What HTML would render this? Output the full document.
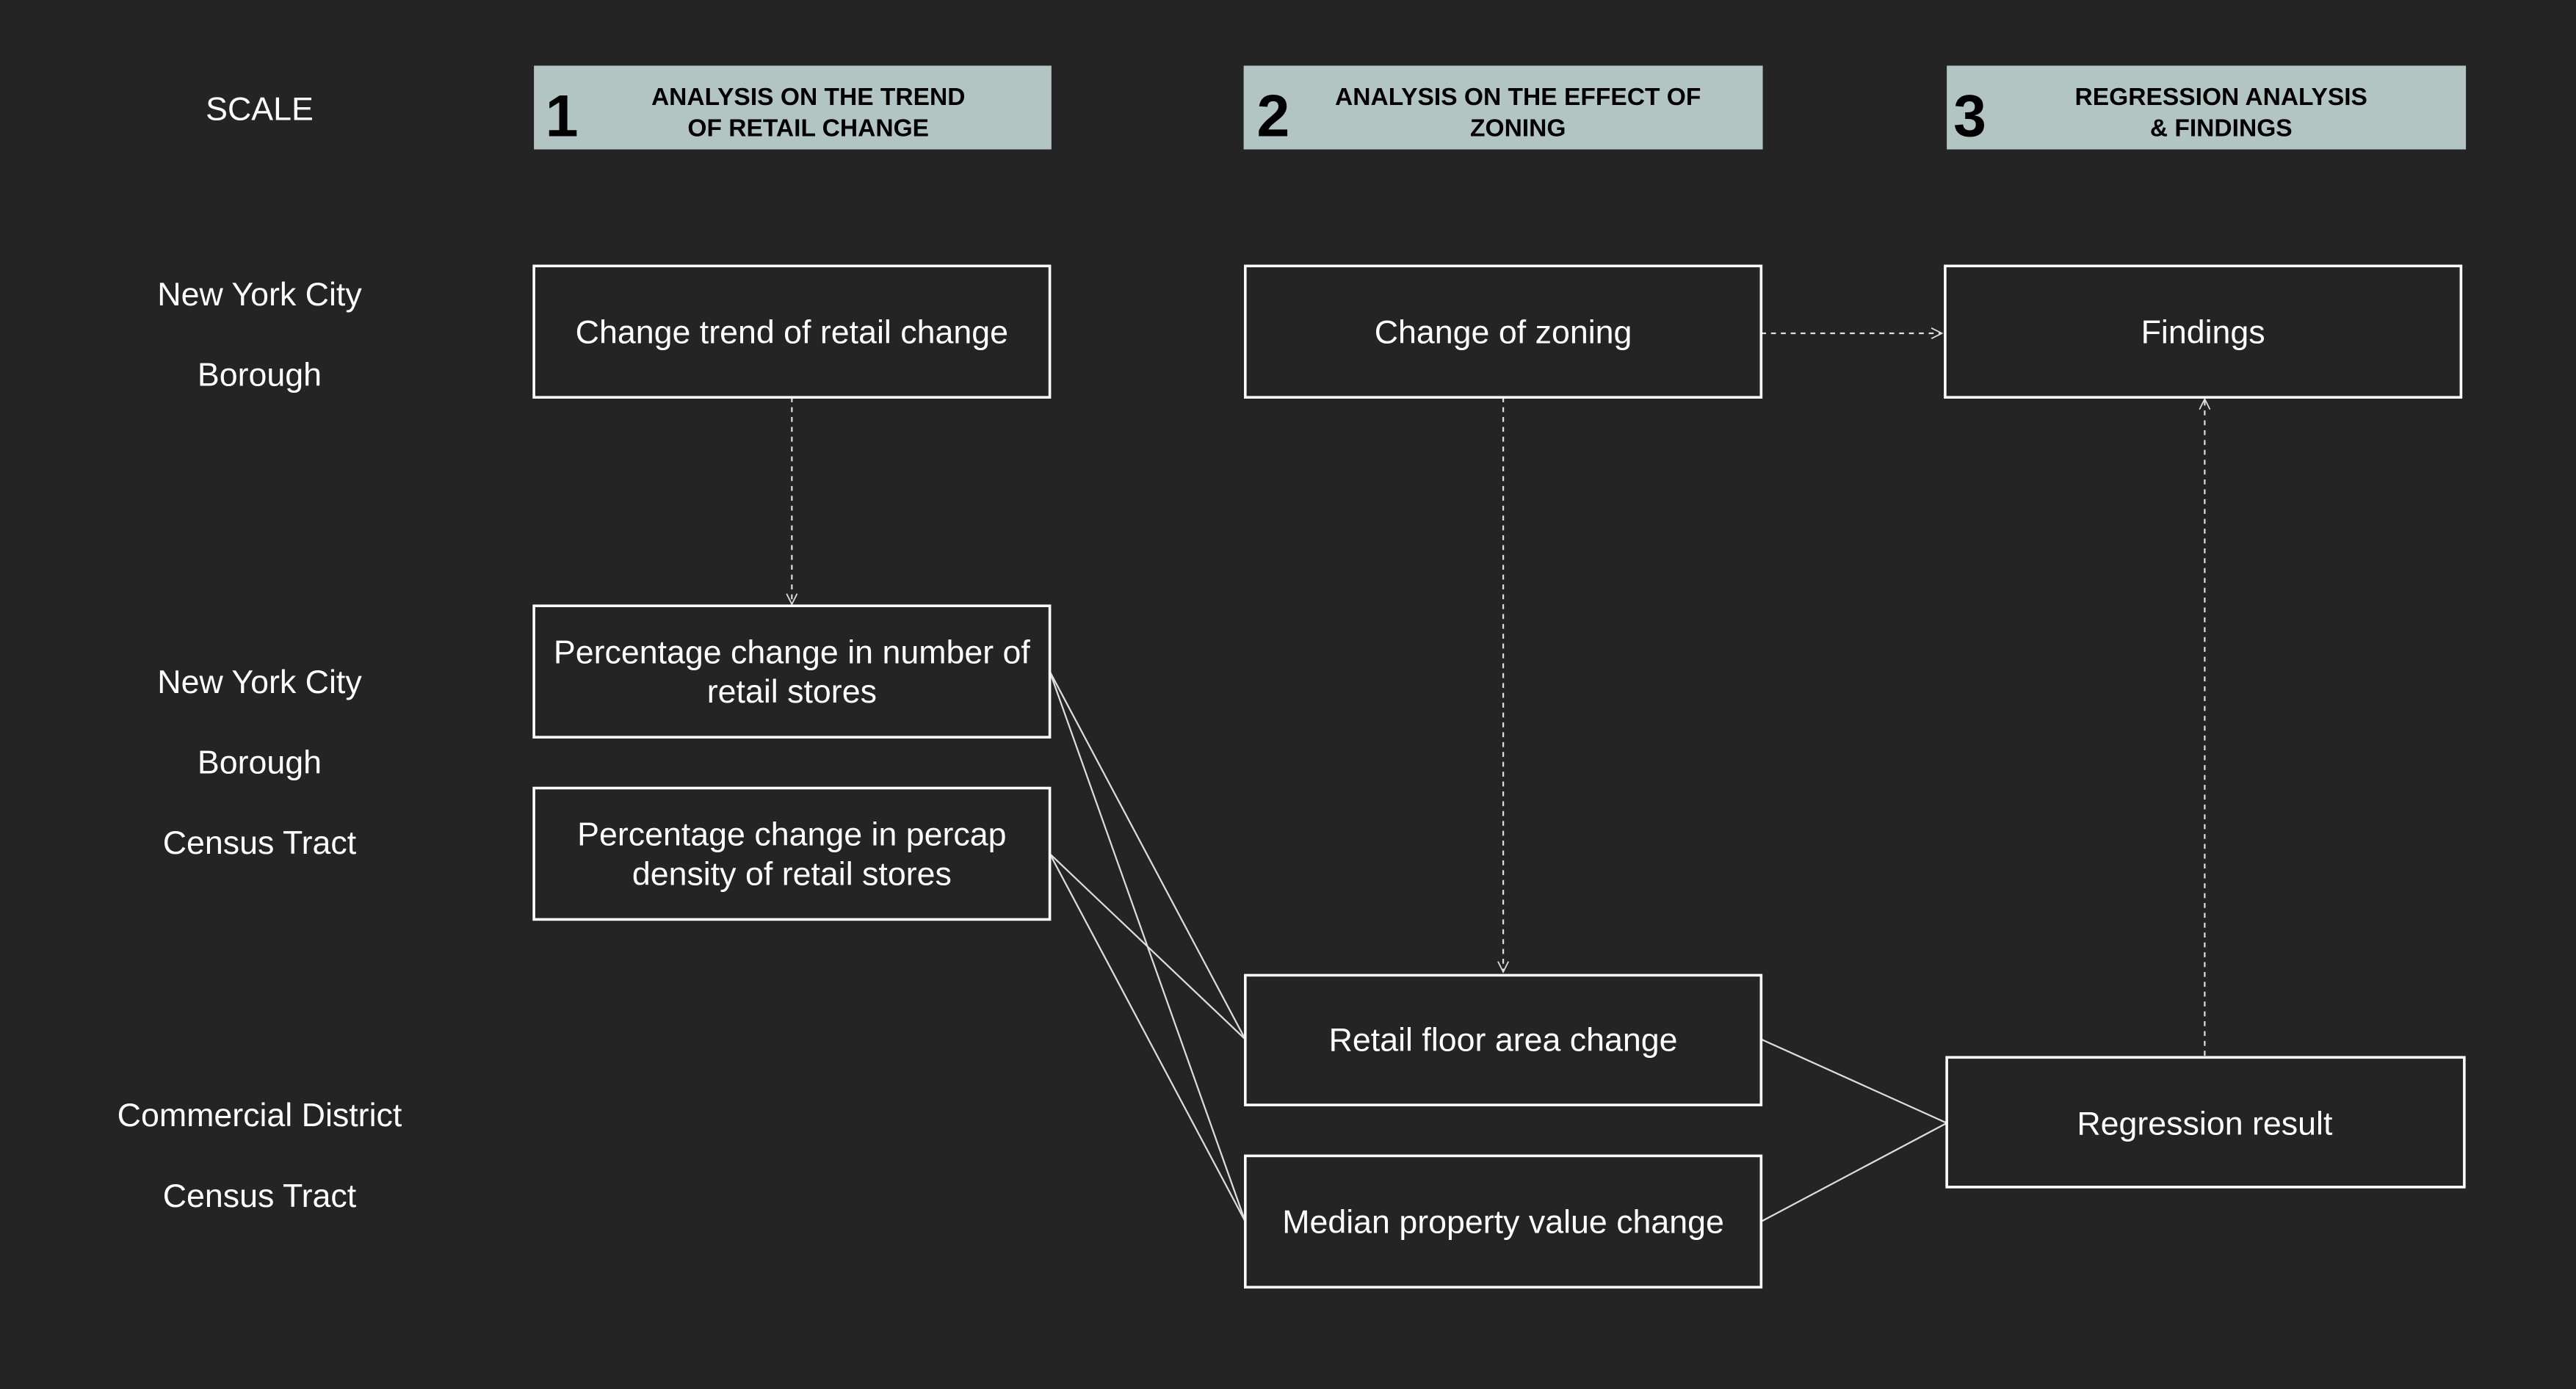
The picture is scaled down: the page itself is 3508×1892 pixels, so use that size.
<!DOCTYPE html>
<html><head><meta charset="utf-8"><style>
html,body{margin:0;padding:0;background:#242424;}
svg{display:block;}
text{font-family:"Liberation Sans",sans-serif;}
</style></head><body>
<svg width="3508" height="1892" viewBox="0 0 1568 846" preserveAspectRatio="none" xmlns="http://www.w3.org/2000/svg">
<defs>
<marker id="a" viewBox="0 0 10 10" refX="9" refY="5" markerWidth="8" markerHeight="8" orient="auto" markerUnits="userSpaceOnUse">
<path d="M1,1 L9,5 L1,9" fill="none" stroke="#ddd" stroke-width="1"/></marker>
</defs>
<rect width="1568" height="846" fill="#242424"/>
<g fill="#b2c5c2">
<rect x="325" y="40" width="315" height="51"/>
<rect x="757" y="40" width="316" height="51"/>
<rect x="1185" y="40" width="316" height="51"/>
</g>
<g fill="#000" font-weight="bold">
<text x="332" y="83" font-size="36">1</text>
<text x="765" y="83" font-size="36">2</text>
<text x="1189" y="83" font-size="36">3</text>
<g font-size="15" text-anchor="middle">
<text x="492" y="64">ANALYSIS ON THE TREND</text>
<text x="492" y="83">OF RETAIL CHANGE</text>
<text x="924" y="64">ANALYSIS ON THE EFFECT OF</text>
<text x="924" y="83">ZONING</text>
<text x="1352" y="64">REGRESSION ANALYSIS</text>
<text x="1352" y="83">&amp; FINDINGS</text>
</g></g>
<g fill="#fff" font-size="20" text-anchor="middle">
<text x="158" y="73">SCALE</text>
<text x="158" y="186">New York City</text>
<text x="158" y="235">Borough</text>
<text x="158" y="422">New York City</text>
<text x="158" y="471">Borough</text>
<text x="158" y="520">Census Tract</text>
<text x="158" y="686">Commercial District</text>
<text x="158" y="735">Census Tract</text>
</g>
<g stroke="#ddd" stroke-width="1" fill="none">
<line x1="482" y1="242" x2="482" y2="368" stroke-dasharray="3,3" marker-end="url(#a)"/>
<line x1="915" y1="242" x2="915" y2="592" stroke-dasharray="3,3" marker-end="url(#a)"/>
<line x1="1072" y1="203" x2="1182" y2="203" stroke-dasharray="3,3" marker-end="url(#a)"/>
<line x1="1342" y1="643" x2="1342" y2="243" stroke-dasharray="3,3" marker-end="url(#a)"/>
<line x1="639" y1="409" x2="758" y2="633"/>
<line x1="639" y1="409" x2="758" y2="744"/>
<line x1="639" y1="520" x2="758" y2="633"/>
<line x1="639" y1="520" x2="758" y2="744"/>
<line x1="1072" y1="633" x2="1185" y2="684"/>
<line x1="1072" y1="744" x2="1185" y2="684"/>
</g>
<g fill="none" stroke="#fff" stroke-width="1.6">
<rect x="325" y="162" width="314" height="80"/>
<rect x="758" y="162" width="314" height="80"/>
<rect x="1184" y="162" width="314" height="80"/>
<rect x="325" y="369" width="314" height="80"/>
<rect x="325" y="480" width="314" height="80"/>
<rect x="758" y="594" width="314" height="79"/>
<rect x="758" y="704" width="314" height="80"/>
<rect x="1185" y="644" width="315" height="79"/>
</g>
<g fill="#fff" font-size="20" text-anchor="middle">
<text x="482" y="209">Change trend of retail change</text>
<text x="915" y="209">Change of zoning</text>
<text x="1341" y="209">Findings</text>
<text x="482" y="404">Percentage change in number of</text>
<text x="482" y="428">retail stores</text>
<text x="482" y="515">Percentage change in percap</text>
<text x="482" y="539">density of  retail stores</text>
<text x="915" y="640">Retail floor area change</text>
<text x="915" y="751">Median property value change</text>
<text x="1342" y="691">Regression result</text>
</g>
</svg>
</body></html>
